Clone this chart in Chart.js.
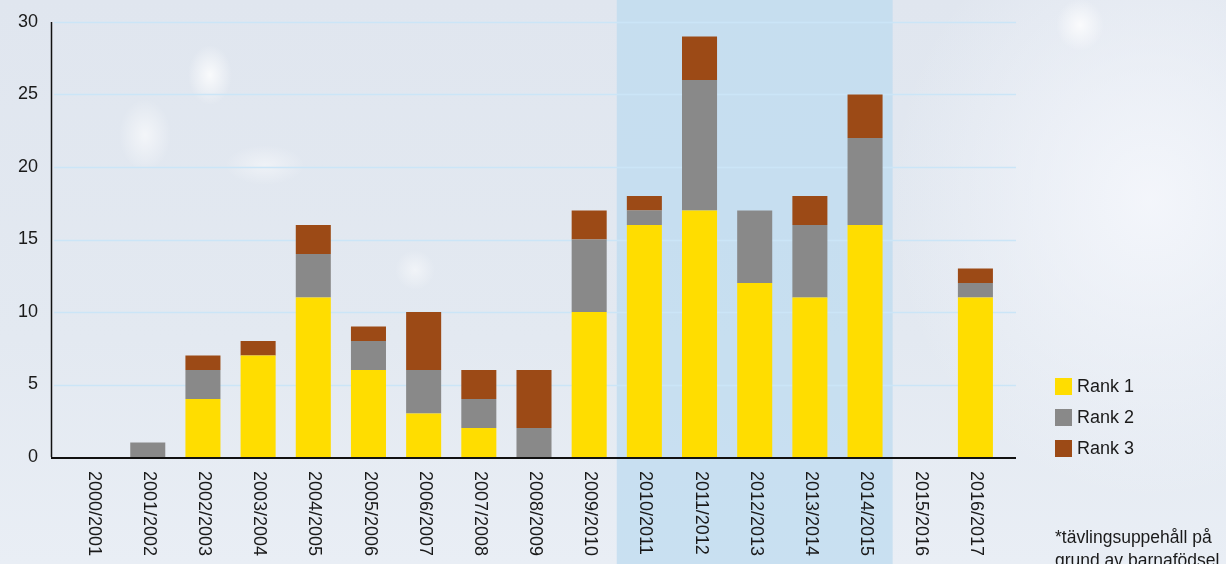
<!DOCTYPE html>
<html>
<head>
<meta charset="utf-8">
<script src="https://cdn.jsdelivr.net/npm/chart.js@4/dist/chart.umd.min.js"></script>
<style>
  html, body { margin: 0; padding: 0; }
  body {
    width: 1226px;
    height: 564px;
    overflow: hidden;
    background:
      radial-gradient(ellipse 22px 30px at 210px 75px, rgba(255,255,255,0.8), rgba(255,255,255,0) 100%),
      radial-gradient(ellipse 26px 36px at 145px 135px, rgba(255,255,255,0.6), rgba(255,255,255,0) 100%),
      radial-gradient(ellipse 40px 20px at 265px 165px, rgba(255,255,255,0.45), rgba(255,255,255,0) 100%),
      radial-gradient(ellipse 24px 26px at 1080px 25px, rgba(255,255,255,0.8), rgba(255,255,255,0) 100%),
      radial-gradient(ellipse 20px 20px at 415px 270px, rgba(255,255,255,0.5), rgba(255,255,255,0) 100%),
      radial-gradient(ellipse 260px 300px at 1150px 200px, rgba(245,247,252,0.9), rgba(245,247,252,0) 100%),
      linear-gradient(180deg, #e0e6ef 0%, #e3e9f1 60%, #e9eef5 100%);
  }
  #wrap { position: absolute; left: 0; top: 0; width: 1226px; height: 564px; }
</style>
</head>
<body>
<div id="wrap"><canvas id="rankChart" width="1226" height="564"></canvas></div>
<script>
// Säsonger och placeringar
const seasons = ["2000/2001", "2001/2002", "2002/2003", "2003/2004", "2004/2005", "2005/2006",
  "2006/2007", "2007/2008", "2008/2009", "2009/2010", "2010/2011", "2011/2012", "2012/2013",
  "2013/2014", "2014/2015", "2015/2016", "2016/2017"];
const rank1 = [0, 0, 4, 7, 11, 6, 3, 2, 0, 10, 16, 17, 12, 11, 16, 0, 11];
const rank2 = [0, 1, 2, 0, 3, 2, 3, 2, 2, 5, 1, 9, 5, 5, 6, 0, 1];
const rank3 = [0, 0, 1, 1, 2, 1, 4, 2, 4, 2, 1, 3, 0, 2, 3, 0, 1];
const yTicks = [0, 5, 10, 15, 20, 25, 30];
const bandSeasons = ["2010/2011", "2014/2015"];
const footnote = ["*tävlingsuppehåll på", "grund av barnafödsel"];

const font = '"Liberation Sans", Arial, sans-serif';

// Bakgrundsband, rutnät, axlar, etiketter och förklaring
const decor = {
  id: 'decor',
  beforeDatasetsDraw(chart) {
    const { ctx, scales: { x, y } } = chart;
    const half = (x.getPixelForValue(1) - x.getPixelForValue(0)) / 2;
    ctx.save();
    // markerat område
    const bx0 = x.getPixelForValue(seasons.indexOf(bandSeasons[0])) - half;
    const bx1 = x.getPixelForValue(seasons.indexOf(bandSeasons[1])) + half;
    ctx.fillStyle = 'rgba(186, 218, 240, 0.7)';
    ctx.fillRect(bx0, 0, bx1 - bx0, chart.height);
    // rutnät
    ctx.strokeStyle = '#cbe5f7';
    ctx.lineWidth = 1.5;
    yTicks.forEach(v => {
      if (v === 0) return;
      const py = Math.round(y.getPixelForValue(v)) + 0.5;
      ctx.beginPath();
      ctx.moveTo(54, py);
      ctx.lineTo(1016, py);
      ctx.stroke();
    });
    ctx.restore();
  },
  afterDatasetsDraw(chart) {
    const { ctx, scales: { x, y } } = chart;
    ctx.save();
    // axlar
    ctx.strokeStyle = '#111';
    ctx.lineWidth = 1.5;
    ctx.beginPath();
    ctx.moveTo(51.5, y.getPixelForValue(30));
    ctx.lineTo(51.5, y.getPixelForValue(0));
    ctx.stroke();
    ctx.lineWidth = 2;
    ctx.beginPath();
    ctx.moveTo(51, y.getPixelForValue(0) + 1);
    ctx.lineTo(1016, y.getPixelForValue(0) + 1);
    ctx.stroke();

    // y-etiketter
    ctx.fillStyle = '#1a1a1a';
    ctx.font = '18px ' + font;
    ctx.textAlign = 'right';
    ctx.textBaseline = 'middle';
    yTicks.forEach(v => ctx.fillText(String(v), 38, y.getPixelForValue(v)));

    // x-etiketter, lodrätt uppifrån och ned
    ctx.textAlign = 'left';
    seasons.forEach((s, i) => {
      ctx.save();
      ctx.translate(x.getPixelForValue(i) + 1, 471);
      ctx.rotate(Math.PI / 2);
      ctx.fillText(s, 0, 0);
      ctx.restore();
    });

    // förklaring
    chart.data.datasets.forEach((ds, i) => {
      const ly = 386 + i * 31;
      ctx.fillStyle = ds.backgroundColor;
      ctx.fillRect(1055, ly - 8, 17, 17);
      ctx.fillStyle = '#1a1a1a';
      ctx.fillText(ds.label, 1077, ly + 1);
    });

    // fotnot
    ctx.font = '17.5px ' + font;
    ctx.fillText(footnote[0], 1055, 538);
    ctx.fillText(footnote[1], 1055, 561);
    ctx.restore();
  }
};

new Chart(document.getElementById('rankChart'), {
  type: 'bar',
  data: {
    labels: seasons,
    datasets: [
      { label: 'Rank 1', data: rank1, backgroundColor: '#ffdd00' },
      { label: 'Rank 2', data: rank2, backgroundColor: '#898989' },
      { label: 'Rank 3', data: rank3, backgroundColor: '#9c4a16' }
    ]
  },
  options: {
    responsive: false,
    animation: false,
    layout: { padding: { left: 65, right: 223, top: 22, bottom: 107 } },
    datasets: {
      bar: { categoryPercentage: 1, barPercentage: 0.635, borderWidth: 0 }
    },
    scales: {
      x: { stacked: true, display: false },
      y: { stacked: true, display: false, min: 0, max: 30 }
    },
    plugins: {
      legend: { display: false },
      tooltip: { enabled: false }
    }
  },
  plugins: [decor]
});
</script>
</body>
</html>
